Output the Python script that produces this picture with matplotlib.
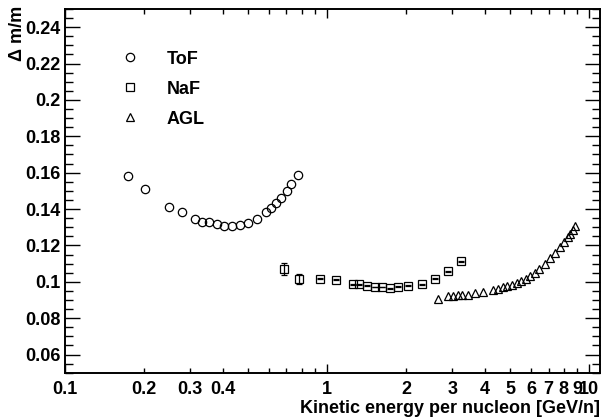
import matplotlib.pyplot as plt
from matplotlib.lines import Line2D
import numpy as np

plt.rcParams['font.family'] = ['Liberation Sans', 'DejaVu Sans']
plt.rcParams['font.weight'] = 'bold'

# ToF
tof_e = [0.1735, 0.2014, 0.2493, 0.2788, 0.3144, 0.3333, 0.3555, 0.3793, 0.4045, 0.4339,
         0.4655, 0.5006, 0.5405, 0.5852, 0.6130, 0.6405, 0.6692, 0.7019, 0.7305, 0.7730]
tof_r = [0.1580, 0.1509, 0.1410, 0.1383, 0.1344, 0.1331, 0.1326, 0.1315, 0.1306, 0.1307,
         0.1311, 0.1322, 0.1344, 0.1384, 0.1408, 0.1435, 0.1461, 0.1501, 0.1536, 0.1587]

# NaF
naf_e = [0.687, 0.782, 0.940, 1.085, 1.253, 1.328, 1.421, 1.521, 1.626, 1.740,
         1.861, 2.038, 2.299, 2.591, 2.896, 3.237]
naf_r = [0.1071, 0.1016, 0.1018, 0.1011, 0.0987, 0.0987, 0.0978, 0.0971, 0.0971, 0.0965,
         0.0973, 0.0978, 0.0987, 0.1018, 0.1059, 0.1114]
naf_err = [0.0033, 0.0028, 0.0004, 0.0003, 0.0002, 0.0002, 0.0002, 0.0002, 0.0002, 0.0002,
           0.0002, 0.0002, 0.0002, 0.0002, 0.0003, 0.0003]

# AGL
agl_e = [2.660, 2.904, 3.034, 3.170, 3.284, 3.443, 3.672, 3.951, 4.291, 4.496,
         4.710, 4.878, 5.070, 5.297, 5.502, 5.734, 5.955, 6.222, 6.461, 6.775,
         7.097, 7.416, 7.749, 8.027, 8.292, 8.483, 8.665, 8.866]
agl_r = [0.0907, 0.0921, 0.0923, 0.0925, 0.0929, 0.0930, 0.0936, 0.0943, 0.0956, 0.0962,
         0.0971, 0.0978, 0.0985, 0.0996, 0.1005, 0.1018, 0.1033, 0.1051, 0.1073, 0.1099,
         0.1130, 0.1158, 0.1190, 0.1216, 0.1245, 0.1263, 0.1282, 0.1304]

xlabels = {0.1: '0.1', 0.2: '0.2', 0.3: '0.3', 0.4: '0.4', 1: '1', 2: '2', 3: '3',
           4: '4', 5: '5', 6: '6', 7: '7', 8: '8', 9: '9', 10: '10'}

fs = 13

fig = plt.figure(figsize=(6.02, 4.19), dpi=100)
ax = fig.add_axes([0.108, 0.1105, 0.8887, 0.868])

ms = 6
ax.plot(tof_e, tof_r, 'o', mfc='none', mec='black', mew=0.9, ms=ms)
ax.errorbar(naf_e, naf_r, yerr=naf_err, fmt='s', mfc='none', mec='black', mew=0.9,
            ms=ms - 0.5, ecolor='black', elinewidth=0.9, capsize=2, capthick=0.9)
ax.plot(agl_e, agl_r, '^', mfc='none', mec='black', mew=0.9, ms=ms)

ax.set_xscale('log')
ax.set_xlim(0.1, 11)
ax.set_ylim(0.05, 0.25)

ax.set_xticks([0.1, 1, 10])
ax.set_xticks([v * d for d in (0.1, 1) for v in range(2, 10)], minor=True)
ax.xaxis.set_major_formatter(plt.NullFormatter())
ax.xaxis.set_minor_formatter(plt.NullFormatter())
for v, t in xlabels.items():
    ax.text(v, -0.024, t, transform=ax.get_xaxis_transform(), ha='center', va='top',
            fontsize=fs, fontweight='bold')

ax.set_yticks(np.arange(0.06, 0.2401, 0.02))
ax.set_yticks(np.arange(0.05, 0.2501, 0.005), minor=True)
ax.set_yticklabels(['0.06', '0.08', '0.1', '0.12', '0.14', '0.16', '0.18', '0.2', '0.22', '0.24'],
                   fontsize=fs, fontweight='bold')

ax.tick_params(axis='both', which='both', direction='in', top=True, right=True, width=1)
ax.tick_params(axis='y', which='major', length=11, pad=3)
ax.tick_params(axis='y', which='minor', length=5.5)
ax.tick_params(axis='x', which='major', length=6.5)
ax.tick_params(axis='x', which='minor', length=3.3)
for s in ax.spines.values():
    s.set_linewidth(1.4)

ax.text(1.0, -0.074, 'Kinetic energy per nucleon [GeV/n]', transform=ax.transAxes,
        ha='right', va='top', fontsize=fs, fontweight='bold')
fig.text(17 / 602, 1 - 6 / 419, 'Δ m/m', rotation=90, ha='center', va='top',
         fontsize=fs, fontweight='bold')

handles = [Line2D([], [], ls='none', marker='o', mfc='none', mec='black', mew=0.9, ms=ms),
           Line2D([], [], ls='none', marker='s', mfc='none', mec='black', mew=0.9, ms=ms - 0.5),
           Line2D([], [], ls='none', marker='^', mfc='none', mec='black', mew=0.9, ms=ms)]
ax.legend(handles, ['ToF', 'NaF', 'AGL'], loc='upper left', bbox_to_anchor=(0.075, 0.93),
          frameon=False, handlelength=1.0, handletextpad=1.5, labelspacing=0.72,
          prop={'weight': 'bold', 'size': fs})

fig.savefig('out.png', dpi=100)
